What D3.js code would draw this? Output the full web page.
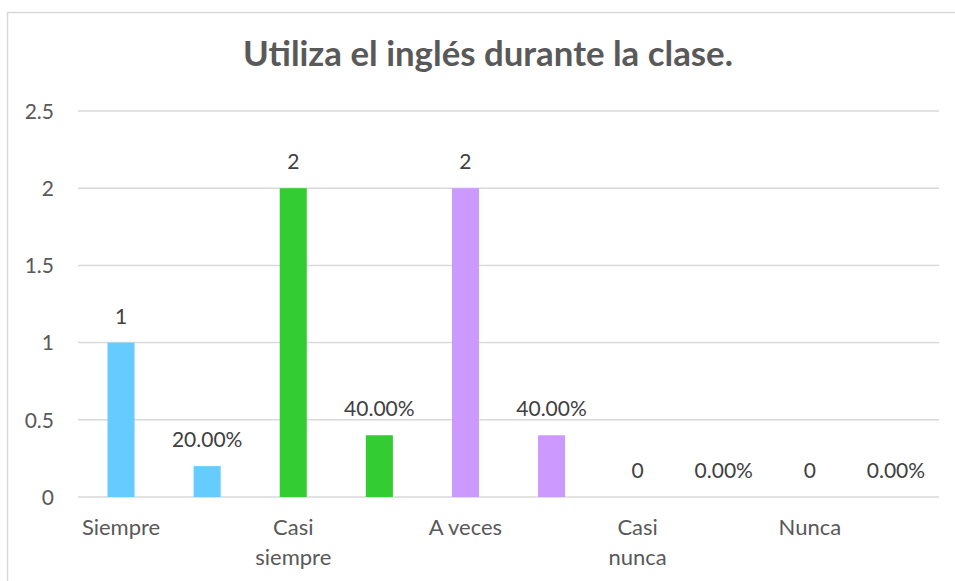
<!DOCTYPE html>
<html><head><meta charset="utf-8">
<script src="https://cdn.jsdelivr.net/npm/d3@7/dist/d3.min.js"></script>
<style>html,body{margin:0;padding:0;background:#fff;}svg{display:block;font-family:Lato,"Noto Sans",sans-serif;}</style>
</head><body>
<svg id="c" width="955" height="581"></svg>
<script>
const title = "Utiliza el inglés durante la clase.";
const categories = ["Siempre", "Casi siempre", "A veces", "Casi nunca", "Nunca"];
const counts = [1, 2, 2, 0, 0];
const percents = [0.20, 0.40, 0.40, 0, 0];
const percentLabels = ["20.00%", "40.00%", "40.00%", "0.00%", "0.00%"];
const colors = ["#66CCFF", "#33CC33", "#CC99FF", "#A5A5A5", "#FFC000"];
const yTicks = [0, 0.5, 1, 1.5, 2, 2.5];
const axisLabelLines = [["Siempre"], ["Casi", "siempre"], ["A veces"], ["Casi", "nunca"], ["Nunca"]];

const svg = d3.select("#c");
const W = 955, H = 581;
const M = {left: 78, right: 16, top: 111, bottom: 84};
const textColor = "#595959";
const gridColor = "#D9D9D9";

// chart border (top & left visible)
svg.append("rect").attr("x", 7.5).attr("y", 12.5).attr("width", W).attr("height", H)
  .attr("fill", "none").attr("stroke", gridColor).attr("stroke-width", 1.5);

// flatten into 10 slots
const items = [];
categories.forEach((c, i) => {
  items.push({key: c + "|n", cat: i, value: counts[i], label: String(counts[i]), axis: axisLabelLines[i]});
  items.push({key: c + "|p", cat: i, value: percents[i], label: percentLabels[i], axis: null});
});

const x = d3.scaleBand().domain(items.map(d => d.key))
  .range([M.left, W - M.right]).paddingInner(0.686).paddingOuter(0.343);
const y = d3.scaleLinear().domain([0, 2.5]).range([H - M.bottom, M.top]);

// gridlines
svg.append("g").selectAll("line").data(yTicks).join("line")
  .attr("x1", M.left).attr("x2", W - M.right)
  .attr("y1", d => y(d)).attr("y2", d => y(d))
  .attr("stroke", gridColor).attr("stroke-width", 1.5);

// y axis labels
const yAxis = d3.axisLeft(y).tickValues(yTicks).tickSize(0).tickPadding(0).tickFormat(d => String(d));
const ya = svg.append("g").attr("transform", `translate(${M.left - 24},0)`).call(yAxis);
ya.select(".domain").remove();
ya.selectAll("text").attr("fill", textColor).style("font-size", "21px").style("font-family", "Lato, sans-serif").attr("dy", "0.35em");

// value labels
const valueColor = "#404040";

// bars
svg.append("g").selectAll("rect").data(items).join("rect")
  .attr("x", d => x(d.key)).attr("width", x.bandwidth())
  .attr("y", d => y(d.value)).attr("height", d => y(0) - y(d.value))
  .attr("fill", d => colors[d.cat]);

svg.append("g").selectAll("text").data(items).join("text")
  .attr("x", d => x(d.key) + x.bandwidth() / 2)
  .attr("y", d => y(d.value) - 19)
  .attr("text-anchor", "middle").attr("fill", valueColor)
  .style("font-size", "21px").text(d => d.label);

// category labels
const xl = svg.append("g").selectAll("text").data(items.filter(d => d.axis)).join("text")
  .attr("x", d => x(d.key) + x.bandwidth() / 2)
  .attr("y", y(0) + 38)
  .attr("text-anchor", "middle").attr("fill", textColor)
  .style("font-size", "22px");
xl.each(function(d) {
  d3.select(this).selectAll("tspan").data(d.axis).join("tspan")
    .attr("x", x(d.key) + x.bandwidth() / 2)
    .attr("dy", (t, i) => i === 0 ? 0 : 30).text(t => t);
});

// title
const t = svg.append("text").attr("x", 488).attr("y", 66).attr("text-anchor", "middle")
  .attr("fill", textColor).style("font-weight", "bold").style("font-size", "28px").text(title);
const tw = t.node().getComputedTextLength();
t.style("font-size", (28 * 490 / tw).toFixed(2) + "px");
</script>
</body></html>
